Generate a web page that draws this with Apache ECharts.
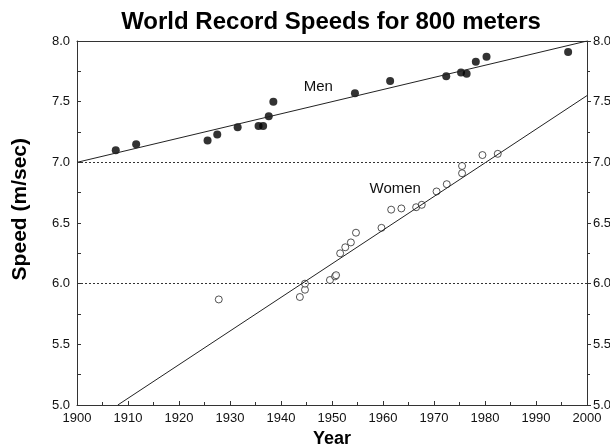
<!DOCTYPE html>
<html>
<head>
<meta charset="utf-8">
<script src="https://cdn.jsdelivr.net/npm/echarts@6/dist/echarts.min.js"></script>
<style>html,body{margin:0;padding:0;background:#fff}#c{width:610px;height:446px}</style>
</head>
<body>
<div id="c"></div>
<script>
const titleText = 'World Record Speeds for 800 meters';
const xAxisTitle = 'Year';
const yAxisTitle = 'Speed (m/sec)';
const xTickValues = [1900,1910,1920,1930,1940,1950,1960,1970,1980,1990,2000];
const yTickValues = [5.0,5.5,6.0,6.5,7.0,7.5,8.0];
const menYears  = [1907.6,1911.6,1925.6,1927.5,1931.5,1935.6,1936.5,1937.6,1938.5,1954.5,1961.4,1972.4,1975.3,1976.4,1978.2,1980.3,1996.3];
const menSpeeds = [7.10,7.15,7.18,7.23,7.29,7.30,7.30,7.38,7.50,7.57,7.67,7.71,7.74,7.73,7.83,7.87,7.91];
const womenYears  = [1927.8,1943.7,1944.7,1944.7,1949.6,1950.6,1950.8,1951.6,1952.6,1953.7,1954.7,1959.7,1961.6,1963.6,1966.5,1967.6,1970.5,1972.5,1975.5,1975.5,1979.5,1982.5];
const womenSpeeds = [5.87,5.89,5.95,6.00,6.03,6.06,6.07,6.25,6.30,6.34,6.42,6.46,6.61,6.62,6.63,6.65,6.76,6.82,6.91,6.97,7.06,7.07];
const menFitYears = [1900,2000];
const menFitSpeeds = [7.0,8.0];
const womenFitYears = [1908,2000];
const womenFitSpeeds = [5.0,7.55];
const refLevels = [6.0,7.0];
const menLabel = {text:'Men', year:1947.3, speed:7.62};
const womenLabel = {text:'Women', year:1962.4, speed:6.78};

const zip = (a,b) => a.map((v,i)=>[v,b[i]]);
const font = 'Liberation Sans, Arial, Helvetica, sans-serif';
const axisCol = '#333';

const chart = echarts.init(document.getElementById('c'), null, {renderer:'canvas'});
chart.setOption({
  animation:false,
  backgroundColor:'#fff',
  title:{text:titleText,left:326,textAlign:'center',top:5,
    textStyle:{fontFamily:font,fontWeight:'bold',fontSize:24,color:'#000'}},
  graphic:[{type:'text',left:10,top:138,rotation:Math.PI/2,
    style:{text:yAxisTitle,fontFamily:font,fontWeight:'bold',fontSize:21,fill:'#000',textAlign:'center',textVerticalAlign:'middle'}}],
  grid:{left:77,right:23,top:41,bottom:41,containLabel:false,outerBoundsMode:'none'},
  xAxis:[{
    type:'value',min:xTickValues[0],max:xTickValues[xTickValues.length-1],interval:10,
    name:xAxisTitle,nameLocation:'middle',nameGap:24,
    nameTextStyle:{fontFamily:font,fontWeight:'bold',fontSize:18,color:'#000'},
    axisLine:{show:true,lineStyle:{color:axisCol,width:1}},
    axisTick:{show:true,inside:true,length:4,lineStyle:{color:axisCol}},
    minorTick:{show:true,splitNumber:2,length:3,lineStyle:{color:axisCol}},
    axisLabel:{fontFamily:font,fontSize:13,color:'#111',margin:7,formatter:v=>String(v)},
    splitLine:{show:false}
  },{
    type:'value',position:'top',min:1900,max:2000,
    axisLine:{show:true,lineStyle:{color:axisCol}},axisTick:{show:false},axisLabel:{show:false},splitLine:{show:false}
  }],
  yAxis:[{
    type:'value',min:yTickValues[0],max:yTickValues[yTickValues.length-1],interval:0.5,
    axisLine:{show:true,lineStyle:{color:axisCol}},
    axisTick:{show:true,inside:true,length:4,lineStyle:{color:axisCol}},
    minorTick:{show:true,splitNumber:2,length:4,lineStyle:{color:axisCol}},
    axisLabel:{fontFamily:font,fontSize:13,color:'#111',margin:7,formatter:v=>v.toFixed(1)},
    splitLine:{show:false}
  },{
    type:'value',position:'right',min:5,max:8,interval:0.5,
    axisLine:{show:true,lineStyle:{color:axisCol}},
    axisTick:{show:true,inside:false,length:4,lineStyle:{color:axisCol}},
    minorTick:{show:true,splitNumber:2,length:3,lineStyle:{color:axisCol}},
    axisLabel:{fontFamily:font,fontSize:13,color:'#111',margin:6,formatter:v=>v.toFixed(1)},
    splitLine:{show:false}
  }],
  series:[
    {type:'line',data:zip(menFitYears,menFitSpeeds),symbol:'none',lineStyle:{color:'#222',width:1},silent:true,
     markLine:{symbol:'none',silent:true,label:{show:false},lineStyle:{type:[2,2],color:'#333',width:1},
       data:refLevels.map(v=>({yAxis:v}))},
     markPoint:{symbol:'circle',symbolSize:0,data:[{coord:[menLabel.year,menLabel.speed],value:menLabel.text}],
       label:{show:true,formatter:menLabel.text,fontFamily:font,fontSize:15,color:'#111'}}},
    {type:'line',data:zip(womenFitYears,womenFitSpeeds),symbol:'none',lineStyle:{color:'#222',width:1},silent:true,
     markPoint:{symbol:'circle',symbolSize:0,data:[{coord:[womenLabel.year,womenLabel.speed],value:womenLabel.text}],
       label:{show:true,formatter:womenLabel.text,fontFamily:font,fontSize:15,color:'#111'}}},
    {type:'scatter',data:zip(menYears,menSpeeds),symbol:'circle',symbolSize:8,itemStyle:{color:'#000'}},
    {type:'scatter',data:zip(womenYears,womenSpeeds),symbol:'circle',symbolSize:7,
     itemStyle:{color:'#fff',borderColor:'#111',borderWidth:0.9}}
  ]
});
</script>
</body>
</html>
